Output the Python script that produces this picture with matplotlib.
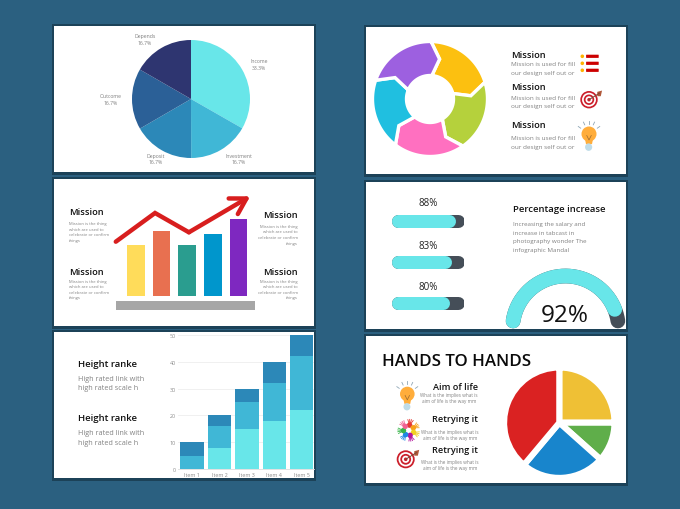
import numpy as np
import matplotlib
matplotlib.use("Agg")
import matplotlib.pyplot as plt
from matplotlib.patches import Rectangle, Polygon, Circle, Ellipse, FancyBboxPatch

# ---------- data ----------
income_labels = ["Income", "Investment", "Deposit", "Outcome", "Depends"]
income_values = [33.3, 16.7, 16.7, 16.7, 16.7]
income_texts = ["33.3%", "16.7%", "16.7%", "16.7%", "16.7%"]

growth_values = [51, 65, 51, 62, 77.5]
trend_x = [-0.78, 0.75, 2.07, 4.46]
trend_y = [54.6, 83.3, 64, 100]

items = ["Item 1", "Item 2", "Item 3", "Item 4", "Item 5"]
stack_low = [0, 8, 15, 18, 22]
stack_mid = [5, 8, 10, 14, 20]
stack_top = [5, 4, 5, 8, 8]
stack_ticks = [0, 10, 20, 30, 40, 50]

cycle_shares = [1, 1, 1, 1, 1]
progress_values = [88, 83, 80]
gauge_value = 92
hands_values = [25, 11.6, 24.5, 38.9]

# ---------- style ----------
BG = "#2B6080"
SHADOW = "#1C4258"
TEAL = ["#68E6E9", "#40B7D6", "#2C88B8", "#2B6097", "#2E3570"]
BAR_COLS = ["#FFDC5A", "#E87050", "#2A9D8F", "#0096CC", "#7E28C0"]
CYCLE_COLS = ["#FCC010", "#B5D13C", "#FF70C0", "#20BFE0", "#9D60E0"]
HAND_COLS = ["#EFC035", "#5FAE4A", "#1885CC", "#DA2222"]
GREY = "#828282"
INK = "#111111"
plt.rcParams["font.family"] = "Open Sans"

W, H = 680, 510
fig = plt.figure(figsize=(6.8, 5.1), dpi=100, facecolor=BG)

base = fig.add_axes([0, 0, 1, 1], zorder=0)
base.set_xlim(0, W)
base.set_ylim(H, 0)
base.axis("off")

over = fig.add_axes([0, 0, 1, 1], zorder=5)
over.set_xlim(0, W)
over.set_ylim(H, 0)
over.axis("off")
over.patch.set_alpha(0)


def sub_axes(x0, y0, x1, y1, z=2):
    ax = fig.add_axes([x0 / W, 1 - y1 / H, (x1 - x0) / W, (y1 - y0) / H], zorder=z)
    ax.patch.set_alpha(0)
    return ax


def txt(x, y, s, size, color=INK, ha="left", weight="normal", **kw):
    over.text(x, y, s, fontsize=size, color=color, ha=ha, va="center",
              fontweight=weight, **kw)


panels = [(54, 27, 314, 173), (54, 180, 314, 327), (54, 333, 314, 479),
          (366, 28, 626, 175), (366, 183, 626, 330), (366, 337, 626, 484)]
for x0, y0, x1, y1 in panels:
    base.add_patch(Rectangle((x0 - 2, y0 - 2), x1 - x0 + 4, y1 - y0 + 4.5,
                             fc=SHADOW, ec="none"))
    base.add_patch(Rectangle((x0, y0), x1 - x0, y1 - y0, fc="white", ec="none"))

# ---------- panel 1: pie ----------
pie_cx, pie_cy, pie_r = 191, 100, 59
ax = sub_axes(pie_cx - pie_r, pie_cy - pie_r, pie_cx + pie_r, pie_cy + pie_r)
ax.pie(income_values, colors=TEAL, startangle=90, counterclock=False, radius=1)
ax.set_xlim(-1, 1)
ax.set_ylim(-1, 1)
label_pos = [(259, 65), (238.5, 159.7), (155.7, 159.7), (110.3, 100), (145, 40)]
for (lx, ly), name, pct in zip(label_pos, income_labels, income_texts):
    txt(lx, ly - 3.2, name, 3.7, color="#808080", ha="center")
    txt(lx, ly + 3.2, pct, 3.7, color="#808080", ha="center")

# ---------- panel 2: growth bars ----------
ax = sub_axes(110, 190, 260, 297.3)
unit = 25.65
ax.bar(range(5), growth_values, width=0.69, color=BAR_COLS)
ax.set_xlim((110 - 135.8) / unit, (260 - 135.8) / unit)
ax.set_ylim(0, 297.3 - 190)
ax.axis("off")
ax.plot(trend_x[:3], trend_y[:3], color="#D81E1E", lw=3.2, solid_capstyle="round",
        solid_joinstyle="miter", clip_on=False)
ax.annotate("", xy=(trend_x[3], trend_y[3]), xytext=(trend_x[2], trend_y[2]),
            arrowprops=dict(arrowstyle="->,head_length=1.1,head_width=0.65", lw=3.2,
                            color="#D81E1E", mutation_scale=10,
                            shrinkA=0, shrinkB=0), annotation_clip=False)
base.add_patch(Rectangle((116.3, 302.3), 138.4, 8.7, fc="#A6A6A6", ec="none"))

mission_desc = ["Mission is the thing", "which are used to",
                "celebrate or confirm", "things"]
HEAD = 6.7
for y, ys in [(213, [224, 229.7, 235.3, 240.7]), (272.3, [281.7, 287.3, 292.7, 298.3])]:
    txt(69.3, y, "Mission", HEAD, weight="semibold")
    for line, ly in zip(mission_desc, ys):
        txt(69.3, ly, line, 3.0, color=GREY)
for y, ys in [(215.7, [226.7, 232.3, 237.7, 243.7]), (272.3, [281.7, 287.3, 292.7, 298.3])]:
    txt(297.3, y, "Mission", HEAD, ha="right", weight="semibold")
    for line, ly in zip(mission_desc, ys):
        txt(297.8, ly, line, 3.0, color=GREY, ha="right")

# ---------- panel 3: stacked bars ----------
spacing = 27.4
ax = sub_axes(178, 336, 314, 470)
x = np.arange(5)
low, mid, top = np.array(stack_low), np.array(stack_mid), np.array(stack_top)
bw = 23.4 / spacing
ax.bar(x, low, width=bw, color=TEAL[0], zorder=3)
ax.bar(x, mid, width=bw, bottom=low, color=TEAL[1], zorder=3)
ax.bar(x, top, width=bw, bottom=low + mid, color=TEAL[2], zorder=3)
ax.set_xlim((178 - 192) / spacing, (314 - 192) / spacing)
ax.set_ylim(0, 50)
ax.set_yticks(stack_ticks)
ax.set_xticks(x, items)
ax.grid(axis="y", color="#EEEEEE", lw=0.6, zorder=0)
ax.tick_params(length=0, labelsize=3.9, labelcolor="#8A8A8A", pad=1.5)
ax.tick_params(axis="x", pad=2.5)
for s in ["top", "right", "left"]:
    ax.spines[s].set_visible(False)
ax.spines["bottom"].set_color("#DDDDDD")
ax.spines["bottom"].set_linewidth(0.6)

for y, ys in [(364.7, (379.3, 389)), (418.7, (433.3, 443.3))]:
    txt(77.7, y, "Height ranke", 6.8, weight="semibold")
    txt(77.7, ys[0], "High rated link with", 5.2, color=GREY)
    txt(77.7, ys[1], "high rated scale h", 5.2, color=GREY)

# ---------- panel 4: cycle ring ----------
ring_cx, ring_cy, ring_out, ring_in = 430, 100, 57.5, 23.5
ring_mid = 41
ang_start = 89.0
total = sum(cycle_shares)
cursor = ang_start
for share, col in zip(cycle_shares, CYCLE_COLS):
    span = 360 * share / total
    a0, a1 = cursor, cursor - span
    outer = np.radians(np.linspace(a0, a1, 40))
    inner = np.radians(np.linspace(a1 - 3.5, a0 - 3.5, 30))
    tip = np.radians(a1 - 12.5)
    notch = np.radians(a0 - 12.5)
    xs = list(ring_cx + ring_out * np.cos(outer))
    ys = list(ring_cy - ring_out * np.sin(outer))
    xs.append(ring_cx + ring_mid * np.cos(tip))
    ys.append(ring_cy - ring_mid * np.sin(tip))
    xs += list(ring_cx + ring_in * np.cos(inner))
    ys += list(ring_cy - ring_in * np.sin(inner))
    xs.append(ring_cx + ring_mid * np.cos(notch))
    ys.append(ring_cy - ring_mid * np.sin(notch))
    over.add_patch(Polygon(np.column_stack([xs, ys]), closed=True, fc=col,
                           ec="white", lw=2.4, joinstyle="miter"))
    cursor -= span

for y, ys in [(55.7, (65, 73.7)), (87, (98, 106.7)), (126, (138.7, 147.7))]:
    txt(510.7, y, "Mission", HEAD, weight="semibold")
    txt(510.7, ys[0], "Mission is used for fill", 4.55, color=GREY)
    txt(511.3, ys[1], "our design self out or", 4.55, color=GREY)


def icon_target(cx, cy, r):
    for frac, col in [(1, "#CC1F2B"), (0.8, "white"), (0.6, "#CC1F2B"),
                      (0.4, "white"), (0.2, "#CC1F2B")]:
        over.add_patch(Circle((cx, cy), r * frac, fc=col, ec="none"))
    over.plot([cx, cx + r * 1.2], [cy, cy - r * 0.75], color="#7A4A35", lw=0.7)
    over.add_patch(Polygon([(cx + r * 0.95, cy - r * 0.9), (cx + r * 1.5, cy - r * 1.05),
                            (cx + r * 1.35, cy - r * 0.4), (cx + r * 0.95, cy - r * 0.4)],
                           fc="#B0583A", ec="none"))


def icon_bulb(cx, cy, r):
    for a in (35, 65, 90, 115, 145):
        t = np.radians(a)
        over.plot([cx + r * 1.35 * np.cos(t), cx + r * 1.75 * np.cos(t)],
                  [cy - r * 1.35 * np.sin(t), cy - r * 1.75 * np.sin(t)],
                  color="#8FA6B5", lw=0.6)
    over.add_patch(Polygon([(cx - r * 0.55, cy + r * 0.6), (cx + r * 0.55, cy + r * 0.6),
                            (cx + r * 0.4, cy + r * 1.35), (cx - r * 0.4, cy + r * 1.35)],
                           fc="#FFAD3B", ec="none"))
    over.add_patch(Circle((cx, cy), r, fc="#FFAD3B", ec="none"))
    over.plot([cx - r * 0.3, cx, cx + r * 0.3], [cy + r * 0.2, cy + r * 0.8, cy + r * 0.2],
              color="#9A6A30", lw=0.5)
    over.add_patch(Ellipse((cx - r * 0.05, cy + r * 1.75), r * 0.95, r * 1.0,
                           fc="#BFDCE8", ec="none"))


def icon_hands(cx, cy, r):
    cols = ["#E53935", "#F7A11A", "#F2D024", "#B5179E", "#1E88E5", "#39B54A", "#F06292"]
    for i, col in enumerate(cols):
        t = np.radians(80 - i * 360 / len(cols))
        hx, hy = cx + r * 0.5 * np.cos(t), cy - r * 0.5 * np.sin(t)
        over.add_patch(Circle((hx, hy), r * 0.26, fc=col, ec="none"))
        for d in (-28, -9, 9, 28):
            f = t + np.radians(d)
            over.plot([hx, hx + r * 0.55 * np.cos(f)], [hy, hy - r * 0.55 * np.sin(f)],
                      color=col, lw=0.6)


for yy in (57.3, 64.3, 71.3):
    over.add_patch(Circle((582.3, yy), 1.8, fc="#FFB300", ec="none"))
    over.add_patch(FancyBboxPatch((586.5, yy - 1.2), 11.8, 2.4,
                                  boxstyle="round,pad=0.4", fc="#CC0000", ec="none"))
icon_target(589, 100.7, 8.7)
icon_bulb(589, 135, 7.5)

# ---------- panel 5: progress and gauge ----------
bar_x0, bar_x1 = 391.7, 464.3
cap = 6.5
lw_px = 13 * 72 / 100
for v, y_c, y_txt in zip(progress_values, (221.8, 262.8, 303.7), (204, 246.3, 288)):
    ax = sub_axes(bar_x0, y_c - 7, bar_x1, y_c + 7)
    px = (bar_x1 - bar_x0) / 100
    ax.set_xlim(0, 100)
    ax.set_ylim(-1, 1)
    ax.axis("off")
    ax.plot([cap / px, 100 - cap / px], [0, 0], color="#454E58", lw=lw_px,
            solid_capstyle="round")
    ax.plot([cap / px, v - cap / px], [0, 0], color=TEAL[0], lw=lw_px,
            solid_capstyle="round")
    txt(428.3, y_txt, f"{v}%", 7.0, color="#222222", ha="center")

txt(513, 210, "Percentage increase", 6.8, weight="semibold")
for line, yy in zip(["Increasing the salary and", "increase in tabcast in",
                     "photography wonder The", "infographic Mandal"],
                    (225, 233.7, 242, 251)):
    txt(513, yy, line, 4.5, color=GREY)

g_cx, g_cy, g_r = 565.5, 330, 53
g_start, g_end = 171.3, 8.7
ax = sub_axes(g_cx - 70, g_cy - 70, g_cx + 70, g_cy + 12)
ax.set_xlim(-70, 70)
ax.set_ylim(-12, 70)
ax.axis("off")
g_lw = 14.7 * 72 / 100
g_all = np.radians(np.linspace(g_start, g_end, 200))
ax.plot(g_r * np.cos(g_all), g_r * np.sin(g_all), color="#454E58", lw=g_lw,
        solid_capstyle="round")
g_val = np.radians(np.linspace(g_start, g_start - (g_start - g_end) * gauge_value / 100, 200))
ax.plot(g_r * np.cos(g_val), g_r * np.sin(g_val), color=TEAL[0], lw=g_lw,
        solid_capstyle="round")
txt(565, 316, f"{gauge_value}%", 17.5, color="#111111", ha="center")

# ---------- panel 6: exploded pie and list ----------
h_cx, h_cy, h_r = 559.3, 423.7, 55.2
ax = sub_axes(h_cx - h_r - 2, h_cy - h_r - 2, h_cx + h_r + 2, h_cy + h_r + 2)
ax.pie(hands_values, colors=HAND_COLS, startangle=90, counterclock=False, radius=h_r,
       wedgeprops=dict(edgecolor="white", linewidth=4.4))
ax.set_xlim(-h_r - 2, h_r + 2)
ax.set_ylim(-h_r - 2, h_r + 2)

txt(381.7, 362.3, "HANDS TO HANDS", 12.2, color="#0A0A0A", weight="semibold")
blocks = [("Aim of life", 388, (396, 402), 449.3),
          ("Retrying it", 419.7, (432.3, 438.3), 450),
          ("Retrying it", 451, (462.3, 468.3), 450.3)]
for title, y, ys, cx in blocks:
    txt(478, y, title, 6.6, ha="right", weight="semibold")
    txt(cx, ys[0], "What is the implies what is", 3.3, color=GREY, ha="center")
    txt(cx, ys[1], "aim of life is the way mm", 3.3, color=GREY, ha="center")
icon_bulb(407.3, 395, 7.3)
icon_hands(408.7, 431.3, 10.5)
icon_target(405.7, 460.3, 9)

fig.savefig("out.png", dpi=100, facecolor=BG)
